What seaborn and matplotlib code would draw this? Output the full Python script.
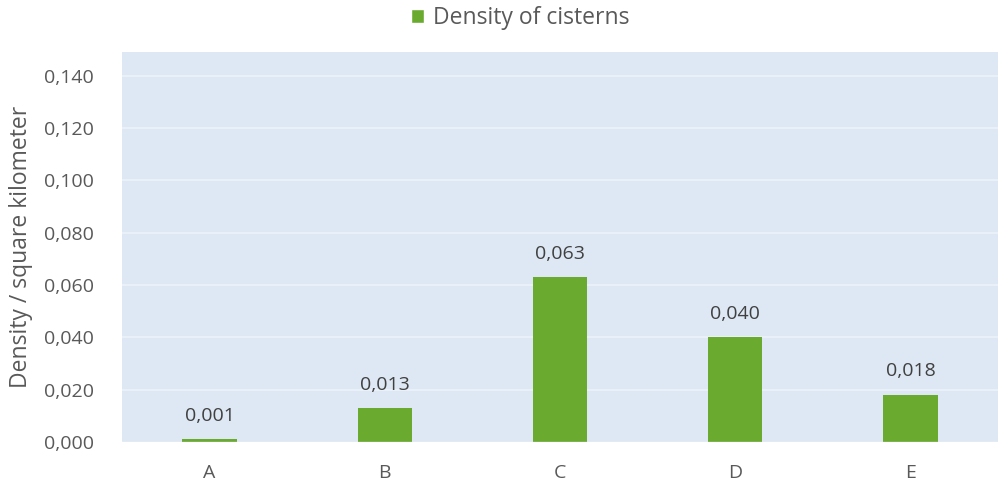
import matplotlib
matplotlib.use("Agg")
import matplotlib.pyplot as plt
import seaborn as sns
import pandas as pd
from matplotlib.patches import Patch
from matplotlib.ticker import FuncFormatter

sites = ["A", "B", "C", "D", "E"]
density = [0.001, 0.013, 0.063, 0.040, 0.018]
y_ticks = [0.0, 0.02, 0.04, 0.06, 0.08, 0.10, 0.12, 0.14]

sns.set_theme(style="white")
plt.rcParams["font.family"] = ["Open Sans", "DejaVu Sans"]

bar_color = "#6aab2f"
bg_color = "#dde8f4"
grid_color = "#ecf2f9"
text_color = "#595959"

df = pd.DataFrame({"site": sites, "density": density})

fig = plt.figure(figsize=(10.05, 4.88), dpi=100)
ax = fig.add_axes([122 / 1005, 1 - 442 / 488, (998 - 122) / 1005, (442 - 52) / 488])
ax.set_facecolor(bg_color)

sns.barplot(data=df, x="site", y="density", color=bar_color, saturation=1,
            width=0.31, linewidth=0, ax=ax, zorder=3)

ax.set_xlim(-0.5, len(sites) - 0.5)
ax.set_ylim(0, 0.149)
ax.set_yticks(y_ticks)
ax.yaxis.set_major_formatter(FuncFormatter(lambda v, p: f"{v:.3f}".replace(".", ",")))
ax.grid(axis="y", color=grid_color, linewidth=1.2, zorder=0)
ax.set_axisbelow(True)
for s in ax.spines.values():
    s.set_visible(False)
ax.axhline(0, color="#d0d6de", linewidth=1, zorder=4)

ax.tick_params(axis="both", length=0, labelsize=14, labelcolor=text_color)
ax.tick_params(axis="x", pad=16)
ax.tick_params(axis="y", pad=20)
ax.set_xlabel("")
ax.set_ylabel("Density / square kilometer", fontsize=16.5, color=text_color, labelpad=8)

for i, v in enumerate(density):
    ax.text(i, v + 0.0055, f"{v:.3f}".replace(".", ","), ha="center", va="bottom",
            fontsize=14, color="#404040")

fig.legend(handles=[Patch(facecolor=bar_color, label="Density of cisterns")],
           loc="center", bbox_to_anchor=(0.518, 1 - 18 / 488), frameon=False,
           fontsize=16.5, labelcolor=text_color, handlelength=0.55, handleheight=0.55,
           handletextpad=0.4)

fig.savefig("out.png", dpi=100, facecolor="white")
